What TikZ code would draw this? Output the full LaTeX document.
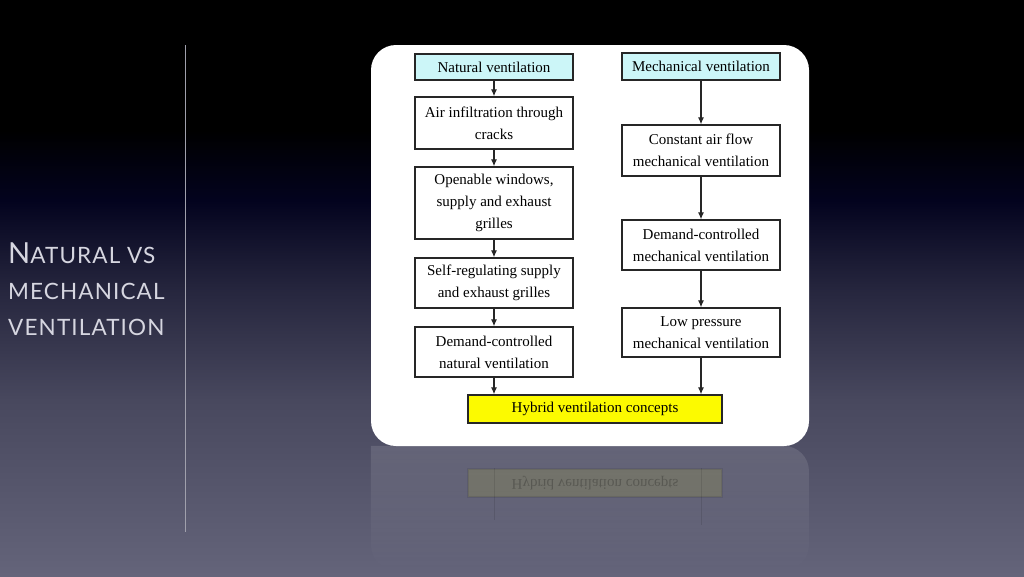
\documentclass[tikz,border=0pt]{standalone}
\usepackage{fontspec}
\setmainfont{Liberation Serif}
\newfontfamily\titlefont[LetterSpace=5]{Lato}
\usetikzlibrary{arrows.meta,fadings}
\definecolor{cyanfill}{RGB}{204,246,248}
\definecolor{yellowfill}{RGB}{252,250,0}
\definecolor{titlegray}{RGB}{214,214,224}
\definecolor{bgA}{RGB}{100,100,122}
\definecolor{bgB}{RGB}{72,72,94}
\definecolor{bgC}{RGB}{38,38,62}
\definecolor{bgD}{RGB}{3,3,30}
\pgfdeclareverticalshading{bgshade}{100bp}{color(0bp)=(bgA); color(25bp)=(bgA); color(40.25bp)=(bgB); color(49.8bp)=(bgC); color(57.65bp)=(bgD); color(63.7bp)=(black); color(75bp)=(black); color(100bp)=(black)}
\tikzfading[name=fadedown, top color=transparent!88, bottom color=transparent!100]
\begin{document}
\begin{tikzpicture}[x=1pt,y=-1pt,
  box/.style={draw=black!85, line width=1.3pt, fill=white, minimum width=158pt, align=center,
    font=\fontsize{15}{22}\selectfont, inner sep=2pt},
  headbox/.style={box, fill=cyanfill},
  hybbox/.style={box, fill=yellowfill, minimum width=254pt, minimum height=28pt},
  arr/.style={draw=black!85, line width=1.2pt, -{Latex[length=7pt,width=6pt]}},
  titletext/.style={text=titlegray, anchor=base west, inner sep=0pt}
]
\useasboundingbox (0,0) rectangle (1024,576);
\shade[shading=bgshade] (0,0) rectangle (1024,576);

% title
\node[titletext] (t1) at (8,263) {\titlefont\fontsize{29}{29}\selectfont N\fontsize{22.5}{22.5}\selectfont ATURAL VS};
\node[titletext] (t2) at (8,299) {\titlefont\fontsize{22.5}{22.5}\selectfont MECHANICAL};
\node[titletext] (t3) at (8,335) {\titlefont\fontsize{22.5}{22.5}\selectfont VENTILATION};

% divider
\coordinate (d1) at (185,45);
\coordinate (d2) at (185,532);
\draw[color={rgb,255:red,160;green,160;blue,172}, line width=0.8pt] (d1) -- (d2);

% reflection of panel
\fill[white, path fading=fadedown] (371,446) [rounded corners=25pt] -- (371,570) -- (809,570) -- (809,446) [sharp corners] -- cycle;

% panel
\node[fill=white, rounded corners=25pt, minimum width=438pt, minimum height=401pt, inner sep=0pt] (panel) at (590,245.5) {};

% left column
\node[headbox, minimum height=26pt] (nat) at (494,67) {Natural ventilation};
\node[box, minimum height=52pt] (air) at (494,123) {Air infiltration through\\cracks};
\node[box, minimum height=72pt] (open) at (494,203) {Openable windows,\\supply and exhaust\\grilles};
\node[box, minimum height=50pt] (self) at (494,283) {Self-regulating supply\\and exhaust grilles};
\node[box, minimum height=50pt] (demn) at (494,352) {Demand-controlled\\natural ventilation};

% right column
\node[headbox, minimum height=27pt] (mech) at (701,66.5) {Mechanical ventilation};
\node[box, minimum height=51pt] (const) at (701,150.5) {Constant air flow\\mechanical ventilation};
\node[box, minimum height=50pt] (demm) at (701,245) {Demand-controlled\\mechanical ventilation};
\node[box, minimum height=49pt] (low) at (701,332.5) {Low pressure\\mechanical ventilation};

% hybrid
\node[hybbox] (hyb) at (595,409) {Hybrid ventilation concepts};

% arrows
\draw[arr] (nat) -- (air);
\draw[arr] (air) -- (open);
\draw[arr] (open) -- (self);
\draw[arr] (self) -- (demn);
\draw[arr] (demn.south) -- (demn.south |- hyb.north);
\draw[arr] (mech) -- (const);
\draw[arr] (const) -- (demm);
\draw[arr] (demm) -- (low);
\draw[arr] (low.south) -- (low.south |- hyb.north);

% reflection of hybrid box
\node[hybbox, yscale=-1, draw opacity=0.12, fill opacity=0.10, text opacity=0.22] (hybr) at (595,483) {Hybrid ventilation concepts};
\coordinate (rl) at (494,520);
\coordinate (rr) at (701,525);
\draw[black, opacity=0.1, line width=0.8pt] (hybr.south -| rl) -- (rl);
\draw[black, opacity=0.1, line width=0.8pt] (hybr.south -| rr) -- (rr);
\end{tikzpicture}
\end{document}
